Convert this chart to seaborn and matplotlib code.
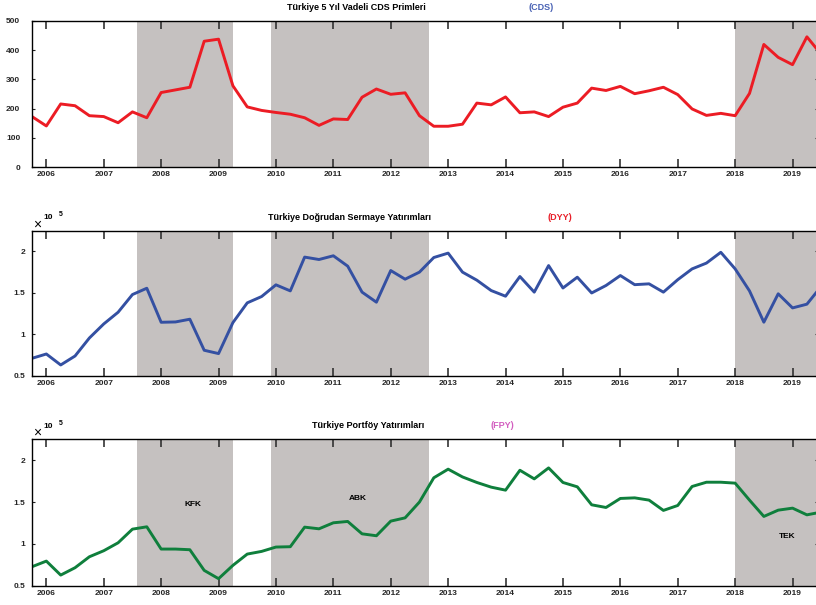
import numpy as np
import pandas as pd
import matplotlib
matplotlib.use("Agg")
import matplotlib.pyplot as plt
import seaborn as sns

# Quarterly observations, 2005Q4 .. 2019Q3
periods = pd.period_range("2005Q4", periods=56, freq="Q")
year_labels = ["2006", "2007", "2008", "2009", "2010", "2011", "2012",
               "2013", "2014", "2015", "2016", "2017", "2018", "2019"]

# 5-year CDS premium (basis points)
cds = [173, 141, 216, 210, 176, 173, 152, 189, 169, 255,
       264, 273, 430, 437, 278, 206, 194, 187, 181, 169,
       143, 165, 163, 239, 267, 249, 254, 176, 140, 140,
       147, 219, 213, 240, 186, 189, 173, 205, 219, 270,
       262, 276, 251, 261, 273, 248, 199, 177, 184, 176,
       252, 419, 375, 350, 445, 385]

# Foreign direct investment
dyy = [71300, 76500, 63300, 74100, 95800, 112700, 126800, 148100, 155700, 114700,
       115100, 118400, 81000, 77000, 114300, 138100, 145700, 159800, 152500, 193200,
       190300, 194800, 182300, 151000, 138900, 177000, 166600, 175100, 192700, 198000,
       175100, 165400, 152900, 146100, 169800, 151000, 183000, 156000, 169000, 150000,
       159000, 171000, 160000, 161000, 151000, 166000, 179000, 186000, 199000, 179000,
       152500, 114800, 149000, 132000, 136500, 158000]

# Foreign portfolio investment
fpy = [72700, 79400, 62700, 71500, 84600, 91800, 101300, 117600, 120400, 93800,
       93800, 93000, 68300, 58400, 74300, 87800, 91000, 96200, 96600, 120000,
       118000, 125200, 126800, 112000, 109700, 127200, 131100, 150000, 179000, 189300,
       180000, 173400, 167800, 164200, 188000, 177700, 190800, 173400, 168200, 146700,
       143500, 154300, 155000, 152300, 140000, 145900, 168600, 173700, 173700, 172600,
       152300, 132800, 140300, 142700, 134700, 138000]

# Crisis periods (decimal years) and their labels
crisis_start = [2007.583, 2009.917, 2018.0]
crisis_end = [2009.25, 2012.667, 2019.6]
crisis_names = ["KFK", "ABK", "TEK"]

df = pd.DataFrame({
    "t": [p.year + (p.quarter - 1) / 4 for p in periods],
    "CDS": cds,
    "DYY": np.array(dyy) / 1e5,
    "FPY": np.array(fpy) / 1e5,
})

sns.set_style("white")
plt.rcParams["font.family"] = ["Liberation Sans", "DejaVu Sans"]
plt.rcParams["font.weight"] = "bold"

W, H = 816, 605
fig = plt.figure(figsize=(W / 100, H / 100), dpi=100)

x0, x1 = 2005.75, 2019.45
px_per_year = 57.4
left_px = 32
width_px = (x1 - x0) * px_per_year

def make_axes(top_px, bottom_px):
    return fig.add_axes([left_px / W, 1 - bottom_px / H, width_px / W, (bottom_px - top_px) / H])

panels = [
    dict(col="CDS", color="#ec1c24", top=20.7, bottom=167.3, ylim=(0, 500),
         yticks=[0, 100, 200, 300, 400, 500], ylabels=["0", "100", "200", "300", "400", "500"],
         title="Türkiye 5 Yıl Vadeli CDS Primleri", tx=356, ty=8,
         tag="(CDS)", tagx=541, tagc="#4a63b5", ypad=8.5, mult=False),
    dict(col="DYY", color="#3450a2", top=230.7, bottom=376.0, ylim=(0.5, 2.25),
         yticks=[0.5, 1, 1.5, 2], ylabels=["0.5", "1", "1.5", "2"],
         title="Türkiye Doğrudan Sermaye Yatırımları", tx=350, ty=217,
         tag="(DYY)", tagx=560, tagc="#e8202a", ypad=5, mult=True),
    dict(col="FPY", color="#0f7f3c", top=439.3, bottom=585.7, ylim=(0.5, 2.25),
         yticks=[0.5, 1, 1.5, 2], ylabels=["0.5", "1", "1.5", "2"],
         title="Türkiye Portföy Yatırımları", tx=368, ty=426,
         tag="(FPY)", tagx=502, tagc="#d35fc0", ypad=5, mult=True),
]

def fx(px):
    return px / W

def fy(py):
    return 1 - py / H

for k, p in enumerate(panels):
    ax = make_axes(p["top"], p["bottom"])
    for s, e in zip(crisis_start, crisis_end):
        ax.axvspan(s, e, color="#c5c1c0", lw=0, zorder=0)
    sns.lineplot(data=df, x="t", y=p["col"], ax=ax, color=p["color"],
                 linewidth=2.1, zorder=3, legend=False)
    ax.set_xlim(x0, x1)
    ax.set_ylim(*p["ylim"])
    ax.set_xticks([int(y) for y in year_labels])
    ax.set_xticklabels(year_labels)
    ax.set_yticks(p["yticks"])
    ax.set_yticklabels(p["ylabels"])
    ax.set_xlabel("")
    ax.set_ylabel("")
    ax.tick_params(axis="x", direction="in", length=5.5, width=1.2, color="#333333",
                   top=True, bottom=True, labelsize=6, pad=3)
    ax.tick_params(axis="y", direction="in", length=2.5, width=0.8, color="#222222",
                   left=True, right=True, labelsize=6, pad=p["ypad"])
    for lab in ax.get_xticklabels() + ax.get_yticklabels():
        lab.set_fontweight("bold")
    for sp in ax.spines.values():
        sp.set_color("black")
        sp.set_linewidth(1.0)
        sp.set_zorder(4)

    fig.text(fx(p["tx"]), fy(p["ty"]), p["title"], ha="center", va="center",
             fontsize=6.5, fontweight="bold", color="black")
    fig.text(fx(p["tagx"]), fy(p["ty"]), p["tag"], ha="center", va="center",
             fontsize=6.5, fontweight="bold", color=p["tagc"])

    if p["mult"]:
        base = p["top"]
        fig.text(fx(37.5), fy(base - 6.5), "×", ha="center", va="center",
                 fontsize=10, fontweight="normal", color="black")
        fig.text(fx(48.5), fy(base - 13), "10", ha="center", va="center",
                 fontsize=6, fontweight="bold", color="black")
        fig.text(fx(60.5), fy(base - 16), "5", ha="center", va="center",
                 fontsize=5, fontweight="bold", color="black")

    if p["col"] == "FPY":
        label_pos = [(193, 504), (358, 498), (787, 537)]
        for name, (lx, ly) in zip(crisis_names, label_pos):
            fig.text(fx(lx), fy(ly), name, ha="center", va="center",
                     fontsize=6, fontweight="bold", color="black")

fig.savefig("out.png", dpi=100)
